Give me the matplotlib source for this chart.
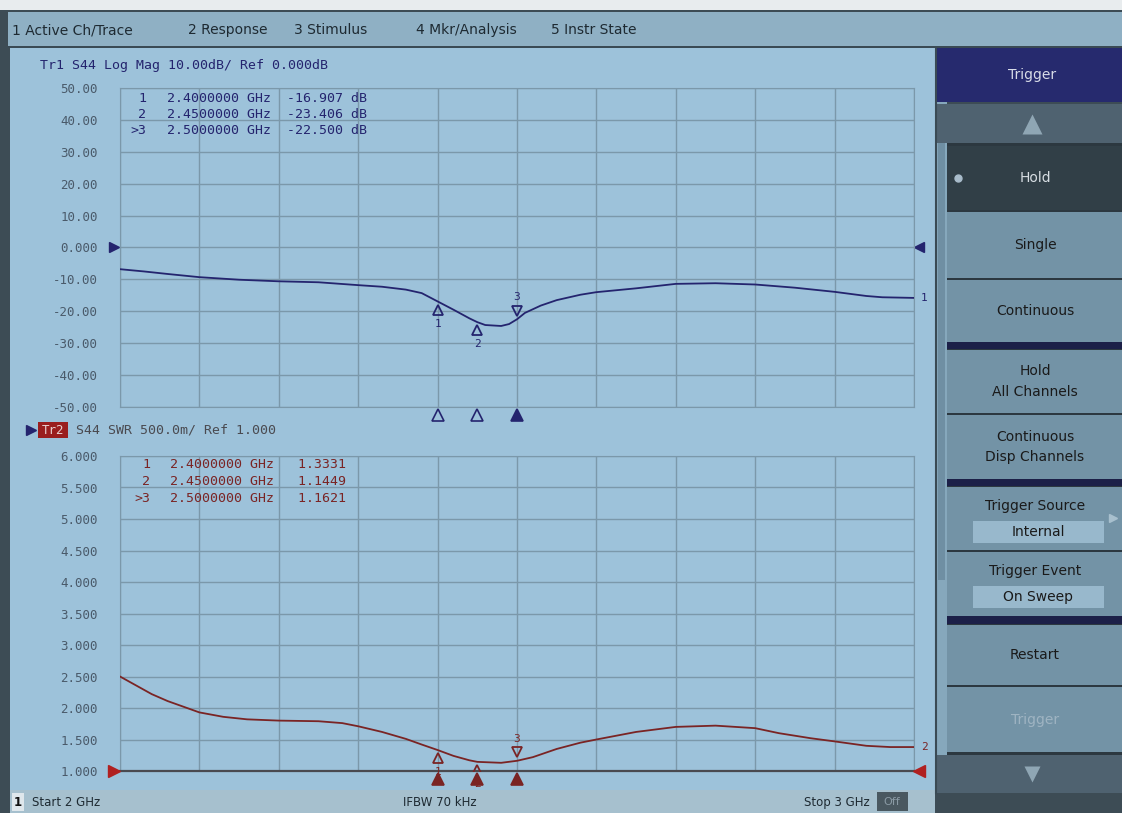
import matplotlib.pyplot as plt
import matplotlib.transforms as mtransforms
from matplotlib.patches import Rectangle

# ---- data ----
freq_db = [2.00, 2.03, 2.06, 2.10, 2.15, 2.20, 2.25, 2.30, 2.33, 2.36, 2.38, 2.40,
           2.42, 2.44, 2.45, 2.46, 2.48, 2.49, 2.50, 2.51, 2.53, 2.55, 2.58, 2.60,
           2.65, 2.70, 2.75, 2.80, 2.85, 2.90, 2.94, 2.96, 3.00]
s44_db = [-6.8, -7.5, -8.3, -9.3, -10.1, -10.6, -10.9, -11.8, -12.3, -13.2, -14.3, -16.9,
          -19.5, -22.2, -23.4, -24.3, -24.6, -24.0, -22.5, -20.5, -18.2, -16.5, -14.8, -14.0,
          -12.8, -11.4, -11.2, -11.6, -12.6, -13.9, -15.2, -15.6, -15.8]

freq_swr = [2.00, 2.02, 2.04, 2.06, 2.08, 2.10, 2.13, 2.16, 2.20, 2.25, 2.28, 2.30,
            2.33, 2.36, 2.38, 2.40, 2.42, 2.44, 2.45, 2.48, 2.50, 2.52, 2.55, 2.58,
            2.60, 2.65, 2.70, 2.75, 2.80, 2.83, 2.87, 2.90, 2.94, 2.97, 3.00]
swr = [2.50, 2.36, 2.22, 2.11, 2.02, 1.93, 1.86, 1.82, 1.80, 1.79, 1.76, 1.71,
       1.62, 1.51, 1.42, 1.333, 1.24, 1.17, 1.145, 1.13, 1.162, 1.22, 1.35, 1.45,
       1.50, 1.62, 1.70, 1.72, 1.68, 1.60, 1.52, 1.47, 1.40, 1.38, 1.38]

mkr_freq = [2.40, 2.45, 2.50]
mkr_db = [-16.907, -23.406, -22.500]
mkr_swr = [1.3331, 1.1449, 1.1621]
mkr_names = ['1', '2', '>3']

db_ticks = [50, 40, 30, 20, 10, 0, -10, -20, -30, -40, -50]
db_labels = ['50.00', '40.00', '30.00', '20.00', '10.00', '0.000',
             '-10.00', '-20.00', '-30.00', '-40.00', '-50.00']
swr_ticks = [6.0, 5.5, 5.0, 4.5, 4.0, 3.5, 3.0, 2.5, 2.0, 1.5, 1.0]
swr_labels = ['6.000', '5.500', '5.000', '4.500', '4.000', '3.500',
              '3.000', '2.500', '2.000', '1.500', '1.000']
freq_grid = [2.0, 2.1, 2.2, 2.3, 2.4, 2.5, 2.6, 2.7, 2.8, 2.9, 3.0]

menu_items = ['1 Active Ch/Trace', '2 Response', '3 Stimulus', '4 Mkr/Analysis', '5 Instr State']
menu_x = [12, 188, 294, 416, 551]

# ---- colours ----
SCREEN = '#9dc2da'
BAR = '#8fb0c4'
GRID = '#7b98aa'
TR1 = '#24246e'
TR2 = '#7a2424'
LABEL = '#4a5a6a'
KEY = '#7393a6'
MONO = 'DejaVu Sans Mono'
W, H = 1122, 813

fig = plt.figure(figsize=(W / 100, H / 100), dpi=100)
fig.patch.set_facecolor('#e8ecee')

# pixel overlay for the instrument frame
bg = fig.add_axes([0, 0, 1, 1], zorder=0)
bg.set_xlim(0, W)
bg.set_ylim(H, 0)
bg.axis('off')


def box(x0, y0, x1, y1, color, **kw):
    bg.add_patch(Rectangle((x0, y0), x1 - x0, y1 - y0, facecolor=color, edgecolor='none', **kw))


box(0, 10, W, H, '#3d4c55')
box(8, 12, W, 46, BAR)
box(8, 46, W, 48, '#3a4a54')
box(10, 48, 935, 790, SCREEN)
box(935, 48, 947, 793, '#86a8bc')
bg.plot([936, 936], [48, 793], color='#3a4a54', lw=1.5)
box(938, 140, 945, 580, '#6f8fa3')

for x, t in zip(menu_x, menu_items):
    bg.text(x, 30, t, fontsize=10, color='#1e2a32', va='center', ha='left')

# status bar
box(10, 790, 935, 813, '#a6c0ce')
box(12, 793, 24, 811, '#dfe7ec')
bg.text(18, 802, '1', fontsize=8.5, color='#111', ha='center', va='center', fontweight='bold')
bg.text(32, 802, 'Start 2 GHz', fontsize=8.5, color='#1e2a32', va='center')
bg.text(440, 802, 'IFBW 70 kHz', fontsize=8.5, color='#1e2a32', va='center', ha='center')
bg.text(870, 802, 'Stop 3 GHz', fontsize=8.5, color='#1e2a32', va='center', ha='right')
box(877, 792, 908, 811, '#4a5860')
bg.text(892, 802, 'Off', fontsize=8, color='#8a9aa4', va='center', ha='center')

# softkeys (label, y0, y1, face, text colour)
softkeys = [
    ('Hold', 146, 210, '#313f47', '#d6dde2'),
    ('Single', 212, 278, KEY, '#1a1a1a'),
    ('Continuous', 280, 342, KEY, '#1a1a1a'),
    ('Hold\nAll Channels', 350, 413, KEY, '#1a1a1a'),
    ('Continuous\nDisp Channels', 415, 479, KEY, '#1a1a1a'),
    ('Restart', 625, 685, KEY, '#1a1a1a'),
    ('Trigger', 687, 752, KEY, '#9fb4c2'),
]
# softkeys with a value field (label, y0, y1, value)
value_keys = [
    ('Trigger Source', 487, 550, 'Internal'),
    ('Trigger Event', 552, 616, 'On Sweep'),
]
box(937, 48, W, 102, '#262a6e')
bg.text(1032, 75, 'Trigger', fontsize=10, color='#d8dce8', ha='center', va='center')
box(937, 104, W, 143, '#4f6270')
bg.plot([1032], [124], marker='^', ms=14, color='#8fa6b4', mec='none')
box(947, 143, W, 793, '#2c3840')
for y0, y1 in [(342, 349), (479, 486), (616, 624)]:
    box(947, y0, W, y1, '#1c2048')
for label, y0, y1, face, tc in softkeys:
    box(947, y0, W, y1, face)
    bg.text(1035, (y0 + y1) / 2, label, fontsize=10, color=tc, ha='center', va='center',
            linespacing=1.6)
for label, y0, y1, val in value_keys:
    box(947, y0, W, y1, KEY)
    bg.text(1035, y0 + 19, label, fontsize=10, color='#1a1a1a', ha='center', va='center')
    box(973, y0 + 34, 1104, y0 + 56, '#98b8cc')
    bg.text(1038, y0 + 45, val, fontsize=10, color='#1a1a1a', ha='center', va='center')
bg.plot([958], [178], marker='o', ms=5, color='#a9bccb')
bg.plot([1113], [518], marker='>', ms=6, color='#a8c0ce')
box(937, 755, W, 793, '#4f6270')
bg.plot([1032], [774], marker='v', ms=12, color='#8fa6b4', mec='none')


def make_axes(top, bottom):
    ax = fig.add_axes([120 / W, 1 - bottom / H, 794 / W, (bottom - top) / H], zorder=2)
    ax.set_facecolor(SCREEN)
    ax.set_xlim(2.0, 3.0)
    ax.set_xticks(freq_grid)
    ax.set_xticklabels([])
    ax.grid(True, color=GRID, lw=1)
    ax.tick_params(length=0, labelsize=9, labelcolor=LABEL, pad=16)
    for s in ax.spines.values():
        s.set_color(GRID)
    return ax


def draw_markers(ax, values, color, below, filled):
    # pins on the trace plus numbers
    for i, (f, v) in enumerate(zip(mkr_freq, values)):
        up = i < 2
        sign = -1 if up else 1
        tr = mtransforms.offset_copy(ax.transData, fig=fig, x=0, y=sign * 6, units='points')
        ax.plot(f, v, marker='^' if up else 'v', ms=7, mfc='none', mec=color, mew=1.3,
                transform=tr, zorder=4)
        ax.annotate(str(i + 1), (f, v), xytext=(0, sign * 16), textcoords='offset points',
                    ha='center', va='center', fontsize=8, color=color, family=MONO)
    # stimulus triangles under the grid
    tb = mtransforms.blended_transform_factory(ax.transData, ax.transAxes)
    for i, f in enumerate(mkr_freq):
        fc = color if filled or i == 2 else 'none'
        ax.plot(f, below, marker='^', ms=8, mfc=fc, mec=color, mew=1.2, transform=tb,
                clip_on=False, zorder=4)


# ---- Trace 1: S44 log mag ----
ax1 = make_axes(88, 407)
ax1.set_ylim(-50, 50)
ax1.set_yticks(db_ticks)
ax1.set_yticklabels(db_labels, family=MONO)
ax1.plot(freq_db, s44_db, color=TR1, lw=1.3, zorder=3)
draw_markers(ax1, mkr_db, TR1, -0.025, False)
ax1.plot(2.0, 0, marker='>', ms=7, color=TR1, transform=mtransforms.offset_copy(
    ax1.transData, fig=fig, x=-6, y=0, units='dots'), clip_on=False)
ax1.plot(3.0, 0, marker='<', ms=7, color=TR1, transform=mtransforms.offset_copy(
    ax1.transData, fig=fig, x=5, y=0, units='dots'), clip_on=False)
ax1.annotate('1', (3.0, s44_db[-1]), xytext=(5, 0), textcoords='offset points',
             fontsize=8, color=TR1, va='center', family=MONO, annotation_clip=False)

fig.text(40 / W, 1 - 65 / H, 'Tr1 S44 Log Mag 10.00dB/ Ref 0.000dB', fontsize=9.5,
         color=TR1, family=MONO, va='center')
for row, (name, f, v) in enumerate(zip(mkr_names, mkr_freq, mkr_db)):
    y = 1 - (98 + row * 16) / H
    fig.text(146 / W, y, name, fontsize=9.5, color=TR1, family=MONO, ha='right', va='center', zorder=5)
    fig.text(167 / W, y, f'{f:.7f} GHz {v:8.3f} dB', fontsize=9.5, color=TR1, family=MONO,
             va='center', zorder=5)

# ---- Trace 2: S44 SWR ----
ax2 = make_axes(456, 771)
ax2.set_ylim(1.0, 6.0)
ax2.set_yticks(swr_ticks)
ax2.set_yticklabels(swr_labels, family=MONO)
ax2.spines['bottom'].set_color('#4a4a50')
ax2.spines['bottom'].set_linewidth(1.6)
ax2.plot(freq_swr, swr, color=TR2, lw=1.3, zorder=3)
draw_markers(ax2, mkr_swr, TR2, -0.025, True)
ax2.plot(2.0, 1.0, marker='>', ms=8, color='#b02020', transform=mtransforms.offset_copy(
    ax2.transData, fig=fig, x=-6, y=0, units='dots'), clip_on=False, zorder=5)
ax2.plot(3.0, 1.0, marker='<', ms=8, color='#b02020', transform=mtransforms.offset_copy(
    ax2.transData, fig=fig, x=5, y=0, units='dots'), clip_on=False, zorder=5)
ax2.annotate('2', (3.0, swr[-1]), xytext=(5, 0), textcoords='offset points',
             fontsize=8, color=TR2, va='center', family=MONO, annotation_clip=False)

bg.plot([31], [430], marker='>', ms=7, color=TR1)
box(38, 422, 68, 438, '#9a1e1e', zorder=3)
bg.text(53, 430, 'Tr2', fontsize=9, color='#e8d0d0', family=MONO, ha='center', va='center', zorder=4)
bg.text(76, 430, 'S44 SWR 500.0m/ Ref 1.000', fontsize=9.5, color='#4a4a50', family=MONO, va='center')
for row, (name, f, v) in enumerate(zip(mkr_names, mkr_freq, mkr_swr)):
    y = 1 - (464 + row * 17) / H
    fig.text(150 / W, y, name, fontsize=9.5, color=TR2, family=MONO, ha='right', va='center', zorder=5)
    fig.text(170 / W, y, f'{f:.7f} GHz   {v:.4f}', fontsize=9.5, color=TR2, family=MONO,
             va='center', zorder=5)

fig.savefig('out.png', dpi=100)
